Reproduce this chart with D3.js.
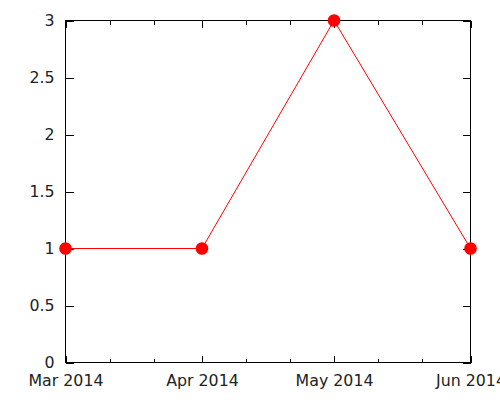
<!DOCTYPE html>
<html><head><meta charset="utf-8">
<script src="https://cdn.jsdelivr.net/npm/d3@7"></script>
<style>body{margin:0;background:#fff}svg{display:block}text{font-family:"DejaVu Sans";}</style>
</head><body>
<svg id="c" width="500" height="400"></svg>
<script>
const dates = ["2014-03-01","2014-04-01","2014-05-01","2014-06-01"];
const values = [1, 1, 3, 1];
const yTicks = [0, 0.5, 1, 1.5, 2, 2.5, 3];
const xTickLabels = ["Mar 2014","Apr 2014","May 2014","Jun 2014"];
const minorDays = [11, 21];

const parse = d3.timeParse("%Y-%m-%d");
const data = dates.map((d,i)=>({date:parse(d), value:values[i]}));
const L=65.5, R=470.5, T=20.5, B=362.5;
const x = d3.scaleTime().domain([data[0].date, data[data.length-1].date]).range([L,R]);
const y = d3.scaleLinear().domain([0,3]).range([B,T]);
const svg = d3.select("#c");
const fs = 15.8;

const majorDates = data.map(d=>d.date);
const minorDates = [];
majorDates.slice(0,-1).forEach(m=>minorDays.forEach(day=>minorDates.push(new Date(m.getFullYear(), m.getMonth(), day))));

// bottom axis
const gb = svg.append("g").attr("transform",`translate(0,${B})`)
  .call(d3.axisBottom(x).tickValues(majorDates).tickSizeInner(-7).tickSizeOuter(0).tickPadding(12)
    .tickFormat((d,i)=>xTickLabels[i]));
gb.append("g").call(d3.axisBottom(x).tickValues(minorDates).tickSizeInner(-4).tickSizeOuter(0).tickFormat(""));
// top axis
const gt = svg.append("g").attr("transform",`translate(0,${T})`)
  .call(d3.axisTop(x).tickValues(majorDates).tickSizeInner(-7).tickSizeOuter(0).tickFormat(""));
gt.append("g").call(d3.axisTop(x).tickValues(minorDates).tickSizeInner(-4).tickSizeOuter(0).tickFormat(""));
// left axis
svg.append("g").attr("transform",`translate(${L},0)`)
  .call(d3.axisLeft(y).tickValues(yTicks).tickSizeInner(-8).tickSizeOuter(0).tickPadding(11).tickFormat(d3.format("")));
// right axis
svg.append("g").attr("transform",`translate(${R},0)`)
  .call(d3.axisRight(y).tickValues(yTicks).tickSizeInner(-8).tickSizeOuter(0).tickFormat(""));

svg.selectAll(".domain").remove();
svg.selectAll(".tick line").attr("stroke","#000").attr("shape-rendering","crispEdges");
svg.selectAll("g").attr("font-family","DejaVu Sans").attr("font-size",fs);
svg.selectAll(".tick text").attr("font-size",fs).attr("font-family","DejaVu Sans").attr("fill","#222");

svg.append("rect").attr("x",L).attr("y",T).attr("width",R-L).attr("height",B-T)
  .attr("fill","none").attr("stroke","#000").attr("shape-rendering","crispEdges");

const line = d3.line().x(d=>x(d.date)).y(d=>y(d.value));
svg.append("path").datum(data).attr("d",line).attr("fill","none").attr("stroke","#ff0000").attr("stroke-width",1);
svg.selectAll("circle.pt").data(data).enter().append("circle").attr("class","pt")
  .attr("cx",d=>x(d.date)).attr("cy",d=>y(d.value)).attr("r",6.3).attr("fill","#ff0000");
</script>
</body></html>
